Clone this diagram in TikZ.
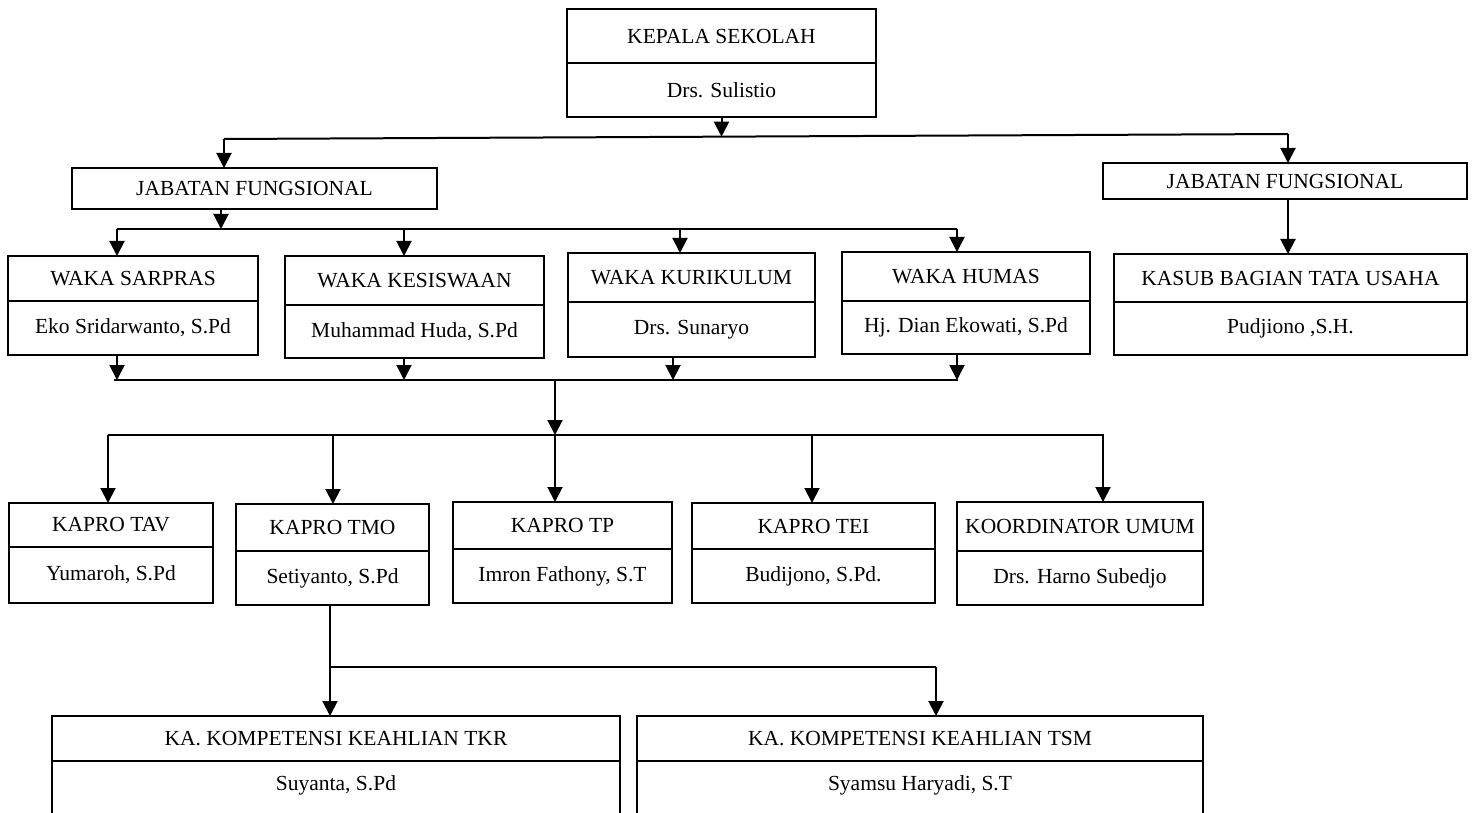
\documentclass[tikz,border=0pt]{standalone}
\usepackage{fontspec}
\setmainfont{Liberation Serif}
\usetikzlibrary{arrows.meta}
\tikzset{
  cell/.style={draw, line width=1pt, inner sep=0pt, outer sep=0pt,
    font=\fontsize{10.75}{12}\selectfont, anchor=north west},
  txt/.style={inner sep=0pt, font=\fontsize{10.75}{12}\selectfont},
  conn/.style={line width=1pt},
  arr/.style={line width=1pt, -{Triangle[width=7.5pt,length=7.5pt]}},
}
\newcommand\twobox[8]{%
  \node[cell, minimum width={(#3-#2)*0.5pt}, minimum height={(#5-#4)*0.5pt}] (#1) at (#2,#4) {#7};
  \node[cell, minimum width={(#3-#2)*0.5pt}, minimum height={(#6-#5)*0.5pt}] (#1n) at (#2,#5) {#8};
}
\begin{document}
\begin{tikzpicture}[x=0.5pt,y=-0.5pt]
\useasboundingbox (0,0) rectangle (1474,813);
\clip (0,0) rectangle (1474,813);

% boxes
\twobox{ks}{567}{876}{9}{63}{117}{KEPALA SEKOLAH}{Drs. Sulistio}
\node[cell, minimum width={365*0.5pt}, minimum height={41*0.5pt}] (jfl) at (72,168) {JABATAN FUNGSIONAL};
\node[cell, minimum width={364*0.5pt}, minimum height={36*0.5pt}] (jfr) at (1103,163) {JABATAN FUNGSIONAL};
\twobox{kasub}{1114}{1467}{254}{302}{355}{KASUB BAGIAN TATA USAHA}{Pudjiono ,S.H.}

\twobox{sar}{8}{258}{256}{301}{355}{WAKA SARPRAS}{Eko Sridarwanto, S.Pd}
\twobox{kes}{285}{544}{256}{305}{358}{WAKA KESISWAAN}{Muhammad Huda, S.Pd}
\twobox{kur}{568}{815}{253}{302}{357}{WAKA KURIKULUM}{Drs. Sunaryo}
\twobox{hum}{842}{1090}{252}{301}{354}{WAKA HUMAS}{Hj. Dian Ekowati, S.Pd}

\twobox{tav}{9}{213}{503}{547}{603}{KAPRO TAV}{Yumaroh, S.Pd}
\twobox{tmo}{236}{429}{504}{551}{605}{KAPRO TMO}{Setiyanto, S.Pd}
\twobox{tp}{453}{672}{502}{549}{603}{KAPRO TP}{Imron Fathony, S.T}
\twobox{tei}{692}{935}{503}{549}{603}{KAPRO TEI}{Budijono, S.Pd.}
\twobox{koo}{957}{1203}{502}{551}{605}{KOORDINATOR UMUM}{Drs. Harno Subedjo}

\twobox{tkr}{52}{620}{716}{761}{840}{KA. KOMPETENSI KEAHLIAN TKR}{}
\twobox{tsm}{637}{1203}{716}{761}{840}{KA. KOMPETENSI KEAHLIAN TSM}{}
\node[txt] (tkrp) at (336,785) {Suyanta, S.Pd};
\node[txt] (tsmp) at (920,785) {Syamsu Haryadi, S.T};

% level 1 bus
\coordinate (b1l) at (224,139);
\coordinate (b1r) at (1288,134);
\coordinate (ksj) at (721.5,136.7);
\draw[conn] (b1l) -- (b1r);
\draw[arr] (ksn.south) -- (ksj);
\draw[arr] (b1l) -- (b1l |- jfl.north);
\draw[arr] (b1r) -- (b1r |- jfr.north);
\draw[arr] (b1r |- jfr.south) -- (b1r |- kasub.north);

% level 2 bus (WAKA)
\coordinate (b2m) at (221,229);
\coordinate (b2a) at (117,229);
\coordinate (b2b) at (404,229);
\coordinate (b2c) at (680,229);
\coordinate (b2d) at (957,229);
\draw[arr] (b2m |- jfl.south) -- (b2m);
\draw[conn] (b2a) -- (b2d);
\draw[arr] (b2a) -- (b2a |- sar.north);
\draw[arr] (b2b) -- (b2b |- kes.north);
\draw[arr] (b2c) -- (b2c |- kur.north);
\draw[arr] (b2d) -- (b2d |- hum.north);

% level 3 bus (from WAKA)
\coordinate (b3l) at (114,380);
\coordinate (b3r) at (958,380);
\coordinate (b3a) at (117,380);
\coordinate (b3b) at (404,380);
\coordinate (b3c) at (673,380);
\coordinate (b3d) at (957,380);
\coordinate (b3m) at (555,380);
\draw[conn] (b3l) -- (b3r);
\draw[arr] (b3a |- sarn.south) -- (b3a);
\draw[arr] (b3b |- kesn.south) -- (b3b);
\draw[arr] (b3c |- kurn.south) -- (b3c);
\draw[arr] (b3d |- humn.south) -- (b3d);

% level 4 bus (KAPRO)
\coordinate (b4l) at (108,435);
\coordinate (b4r) at (1104,435);
\coordinate (b4m) at (555,435);
\coordinate (b4a) at (108,435);
\coordinate (b4b) at (333,435);
\coordinate (b4d) at (812,435);
\coordinate (b4e) at (1103,435);
\draw[arr] (b3m) -- (b4m);
\draw[conn] (b4l) -- (b4r);
\draw[arr] (b4a) -- (b4a |- tav.north);
\draw[arr] (b4b) -- (b4b |- tmo.north);
\draw[arr] (b4m) -- (b4m |- tp.north);
\draw[arr] (b4d) -- (b4d |- tei.north);
\draw[arr] (b4e) -- (b4e |- koo.north);

% level 5 bus (TMO -> kompetensi)
\coordinate (b5a) at (330,667);
\coordinate (b5b) at (936,667);
\draw[conn] (b5a |- tmon.south) -- (b5a) -- (b5b);
\draw[arr] (b5a) -- (b5a |- tkr.north);
\draw[arr] (b5b) -- (b5b |- tsm.north);
\end{tikzpicture}
\end{document}
